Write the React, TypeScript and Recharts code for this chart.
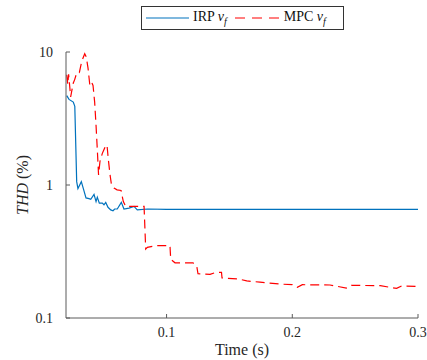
import React from 'react';
import { LineChart, Line, XAxis, YAxis } from 'recharts';

const irpTime = [0.0206, 0.0224, 0.0258, 0.027, 0.0285, 0.0295, 0.0322, 0.0338, 0.0359, 0.0383, 0.0397, 0.0423, 0.0439, 0.0449, 0.0465, 0.0489, 0.0502, 0.0516, 0.0534, 0.0556, 0.0574, 0.0587, 0.0608, 0.064, 0.0661, 0.0701, 0.0741, 0.0767, 0.085, 0.1, 0.15, 0.2, 0.25, 0.3];
const irpThd = [4.7, 4.4, 4.2, 3.9, 1.06, 0.94, 1.06, 0.94, 0.8, 0.79, 0.78, 0.85, 0.75, 0.81, 0.73, 0.73, 0.71, 0.74, 0.68, 0.65, 0.64, 0.66, 0.66, 0.74, 0.66, 0.67, 0.69, 0.65, 0.66, 0.655, 0.655, 0.655, 0.655, 0.655];

const mpcTime = [0.0206, 0.0214, 0.0221, 0.0237, 0.0258, 0.0269, 0.0285, 0.0306, 0.0325, 0.0349, 0.0361, 0.0375, 0.0389, 0.0401, 0.0415, 0.0428, 0.0439, 0.0449, 0.0459, 0.047, 0.0489, 0.0508, 0.0526, 0.0537, 0.055, 0.0562, 0.0582, 0.0606, 0.0638, 0.0656, 0.0675, 0.0749, 0.0821, 0.0834, 0.0847, 0.0916, 0.0988, 0.1027, 0.1033, 0.1067, 0.121, 0.124, 0.125, 0.1346, 0.1391, 0.1437, 0.1441, 0.1568, 0.1638, 0.1743, 0.1903, 0.2, 0.204, 0.208, 0.23, 0.243, 0.247, 0.27, 0.283, 0.287, 0.3];
const mpcThd = [6.75, 5.7, 6.8, 4.6, 5.85, 6.2, 6.95, 7.0, 8.5, 9.7, 9.2, 7.6, 5.7, 6.0, 5.6, 4.2, 2.8, 1.85, 1.19, 1.5, 1.73, 1.9, 2.0, 1.55, 1.2, 1.0, 0.95, 0.92, 0.91, 0.75, 0.69, 0.69, 0.69, 0.33, 0.34, 0.35, 0.35, 0.35, 0.276, 0.26, 0.26, 0.245, 0.215, 0.213, 0.22, 0.22, 0.2, 0.197, 0.19, 0.186, 0.18, 0.178, 0.17, 0.178, 0.177, 0.168, 0.176, 0.175, 0.167, 0.174, 0.173];

const xTicks = [0.1, 0.2, 0.3];
const yTicks = [0.1, 1, 10];
const xDomain = [0.02, 0.3];
const yDomain = [0.1, 10];

const irpData = irpTime.map((t, i) => ({ t, v: irpThd[i] }));
const mpcData = mpcTime.map((t, i) => ({ t, v: mpcThd[i] }));

const FONT = 'Liberation Serif';
const AXIS = '#5a5a5a';
const BLUE = '#0072BD';
const RED = '#FF0000';

const W = 427;
const H = 360;
const LEFT = 66;
const TOP = 52;
const RIGHT = 418;
const BOTTOM = 318;

const YLabel = () => (
  <text
    x={22}
    y={(TOP + BOTTOM) / 2}
    transform={`rotate(-90 22 ${(TOP + BOTTOM) / 2})`}
    textAnchor="middle"
    dominantBaseline="central"
    fontFamily={FONT}
    fontSize={16}
    fill="#262626"
  >
    <tspan fontStyle="italic">THD</tspan>
    <tspan> (%)</tspan>
  </text>
);

const XLabel = () => (
  <text
    x={(LEFT + RIGHT) / 2}
    y={349}
    textAnchor="middle"
    dominantBaseline="central"
    fontFamily={FONT}
    fontSize={16}
    fill="#262626"
  >
    Time (s)
  </text>
);

const tickStyle = { fontSize: 14, fill: '#262626', fontFamily: FONT };
const empty = () => '';

export default function App() {
  return (
    <div style={{ position: 'relative', width: W, height: H, background: '#fff', fontFamily: FONT }}>
      <style>{'body{margin:0}'}</style>
      <LineChart
        width={W}
        height={H}
        margin={{ top: TOP, right: W - RIGHT, bottom: 0, left: 0 }}
      >
        <XAxis
          xAxisId="b"
          dataKey="t"
          type="number"
          domain={xDomain}
          ticks={xTicks}
          allowDataOverflow
          height={H - BOTTOM}
          stroke={AXIS}
          tickSize={-4}
          tickMargin={13}
          tick={tickStyle}
          label={<XLabel />}
        />
        <XAxis
          xAxisId="t"
          orientation="top"
          dataKey="t"
          type="number"
          domain={xDomain}
          ticks={xTicks}
          allowDataOverflow
          height={0}
          stroke={AXIS}
          tickSize={-4}
          tickFormatter={empty}
        />
        <YAxis
          yAxisId="l"
          dataKey="v"
          scale="log"
          type="number"
          domain={yDomain}
          ticks={yTicks}
          allowDataOverflow
          width={LEFT}
          stroke={AXIS}
          tickSize={-4}
          tickMargin={17}
          tick={tickStyle}
          label={<YLabel />}
        />
        <YAxis
          yAxisId="r"
          orientation="right"
          dataKey="v"
          scale="log"
          type="number"
          domain={yDomain}
          ticks={yTicks}
          allowDataOverflow
          width={0}
          stroke={AXIS}
          tickSize={-4}
          tickFormatter={empty}
        />
        <Line
          xAxisId="b"
          yAxisId="l"
          data={irpData}
          dataKey="v"
          type="linear"
          stroke={BLUE}
          strokeWidth={1.2}
          dot={false}
          isAnimationActive={false}
        />
        <Line
          xAxisId="b"
          yAxisId="l"
          data={mpcData}
          dataKey="v"
          type="linear"
          stroke={RED}
          strokeWidth={1.2}
          strokeDasharray="9 5"
          dot={false}
          isAnimationActive={false}
        />
      </LineChart>
      <div
        style={{
          position: 'absolute',
          left: 141,
          top: 6,
          width: 201,
          height: 22,
          border: '1px solid #333',
          background: '#fff',
          display: 'flex',
          alignItems: 'center',
          fontFamily: FONT,
          fontSize: 14,
          color: '#111',
          boxSizing: 'content-box',
        }}
      >
        <svg width={48} height={10} style={{ marginLeft: 3 }}>
          <line x1={1} y1={5} x2={44} y2={5} stroke={BLUE} strokeWidth={1.2} />
        </svg>
        <span style={{ whiteSpace: 'nowrap' }}>
          IRP <i>v</i>
          <sub style={{ fontSize: 10, fontStyle: 'italic' }}>f</sub>
        </span>
        <svg width={50} height={10} style={{ marginLeft: 7 }}>
          <line x1={1} y1={5} x2={48} y2={5} stroke={RED} strokeWidth={1.2} strokeDasharray="10 7" />
        </svg>
        <span style={{ whiteSpace: 'nowrap' }}>
          MPC <i>v</i>
          <sub style={{ fontSize: 10, fontStyle: 'italic' }}>f</sub>
        </span>
      </div>
    </div>
  );
}
